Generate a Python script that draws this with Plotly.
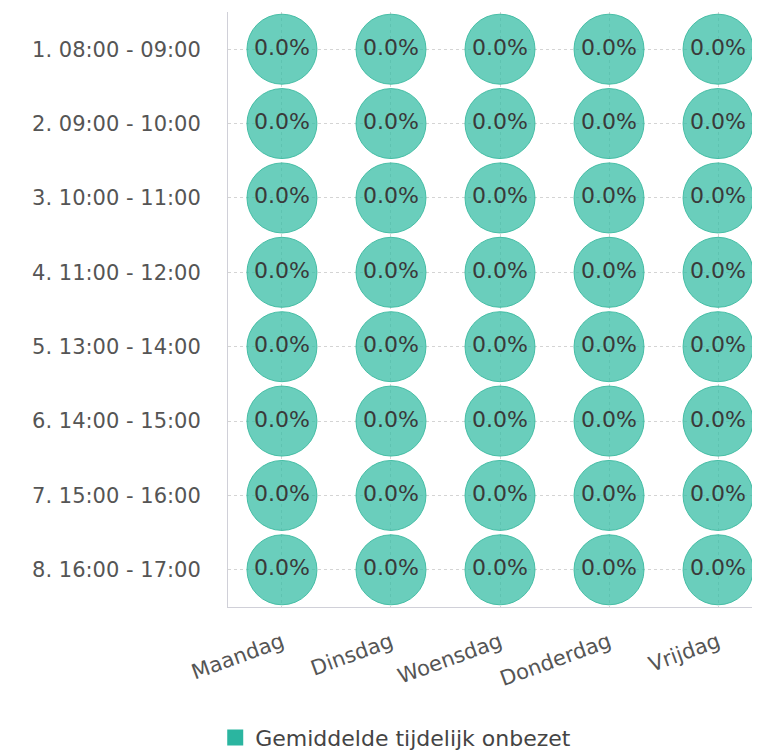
import plotly.graph_objects as go

days = ["Maandag", "Dinsdag", "Woensdag", "Donderdag", "Vrijdag"]
slots = ["1. 08:00 - 09:00", "2. 09:00 - 10:00", "3. 10:00 - 11:00", "4. 11:00 - 12:00",
         "5. 13:00 - 14:00", "6. 14:00 - 15:00", "7. 15:00 - 16:00", "8. 16:00 - 17:00"]
values = [
    [0.0, 0.0, 0.0, 0.0, 0.0],
    [0.0, 0.0, 0.0, 0.0, 0.0],
    [0.0, 0.0, 0.0, 0.0, 0.0],
    [0.0, 0.0, 0.0, 0.0, 0.0],
    [0.0, 0.0, 0.0, 0.0, 0.0],
    [0.0, 0.0, 0.0, 0.0, 0.0],
    [0.0, 0.0, 0.0, 0.0, 0.0],
    [0.0, 0.0, 0.0, 0.0, 0.0],
]
series_name = "Gemiddelde tijdelijk onbezet"

xs, ys, txt = [], [], []
for i, s in enumerate(slots):
    for j, d in enumerate(days):
        xs.append(j)
        ys.append(i)
        txt.append(f"{values[i][j]:.1f}%")

FONT = "DejaVu Sans"
fig = go.Figure()
fig.add_trace(go.Scatter(
    x=xs, y=ys, mode="markers+text", text=txt, textposition="middle center",
    textfont=dict(family=FONT, size=22, color="#3a3a3a"),
    marker=dict(size=70, color="rgba(56,190,165,0.75)", line=dict(color="rgba(60,185,160,0.9)", width=1)),
    showlegend=False, cliponaxis=False, hoverinfo="skip"))
fig.add_trace(go.Scatter(
    x=[None], y=[None], mode="markers", name=series_name,
    marker=dict(symbol="square", size=16, color="#2bb5a0")))

fig.update_layout(
    width=752, height=746,
    margin=dict(l=220, r=0, t=4, b=147, autoexpand=False),
    paper_bgcolor="white", plot_bgcolor="white",
    font=dict(family=FONT, color="#555555", size=21),
    xaxis=dict(
        tickmode="array", tickvals=list(range(len(days))), ticktext=days,
        range=[-0.495, 4.385], tickangle=-20, showgrid=True, automargin=False,
        gridcolor="#d4d4d4", griddash="dot", gridwidth=1, zeroline=False,
        showline=True, linecolor="#d0d0d8", linewidth=1,
        ticks="outside", ticklen=14, tickcolor="rgba(0,0,0,0)",
        tickfont=dict(family=FONT, size=21, color="#555555")),
    yaxis=dict(
        tickmode="array", tickvals=list(range(len(slots))), ticktext=slots,
        range=[7.5, -0.5], showgrid=True, gridcolor="#d4d4d4", griddash="dot",
        gridwidth=1, zeroline=False, showline=True, linecolor="#d0d0d8", linewidth=1,
        automargin=False,
        ticks="outside", ticklen=22, tickcolor="rgba(0,0,0,0)",
        tickfont=dict(family=FONT, size=21, color="#555555")),
    legend=dict(orientation="h", x=-0.024, xanchor="left", y=0.022, yanchor="middle",
                yref="container",
                font=dict(family=FONT, size=22, color="#444444")),
)
fig.write_html("out.html")
